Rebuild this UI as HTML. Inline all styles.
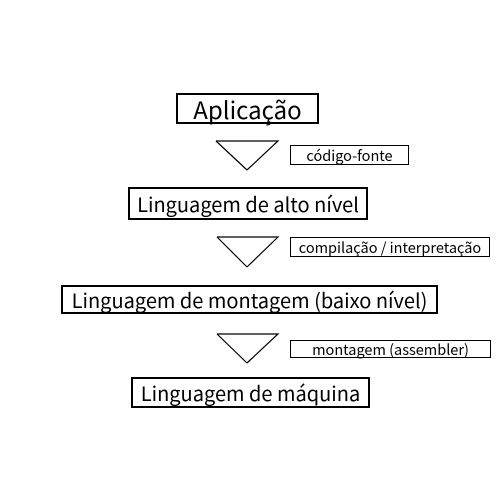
<!DOCTYPE html>
<html><head><meta charset="utf-8"><style>
body{margin:0;width:500px;height:500px;background:#fff;position:relative;overflow:hidden;font-family:"Noto Sans CJK JP","Liberation Sans",sans-serif;color:#000}
.b{position:absolute;box-sizing:border-box;border:2px solid #000;display:flex;align-items:center;justify-content:center;white-space:nowrap;background:#fff}
.l{position:absolute;box-sizing:border-box;border:1px solid #000;display:flex;align-items:center;justify-content:center;white-space:nowrap;font-size:14.5px}
svg{position:absolute;left:0;top:0}
</style></head><body>
<svg width="500" height="500"><g fill="none" stroke="#000" stroke-width="1.2">
<polyline points="216,141 278,141 247,170"/><line x1="216" y1="141" x2="247" y2="170"/>
<polyline points="217,237 278,237 247,267"/><line x1="217" y1="237" x2="247" y2="267"/>
<polyline points="217,334 278,334 247,363"/><line x1="217" y1="334" x2="247" y2="363"/>
</g></svg>
<div class="b" style="left:176px;top:93px;width:143px;height:31px;font-size:24px;border-width:2.5px">Aplicação</div>
<div class="l" style="left:290px;top:145px;width:119px;height:20px">código-fonte</div>
<div class="b" style="left:128px;top:187px;width:240px;height:33px;font-size:20px">Linguagem de alto nível</div>
<div class="l" style="left:290px;top:237px;width:200px;height:20px">compilação / interpretação</div>
<div class="b" style="left:61px;top:285px;width:377px;height:29px;font-size:20px">Linguagem de montagem (baixo nível)</div>
<div class="l" style="left:290px;top:340px;width:201px;height:18px">montagem (assembler)</div>
<div class="b" style="left:131px;top:377px;width:239px;height:31px;font-size:20px">Linguagem de máquina</div>
</body></html>
